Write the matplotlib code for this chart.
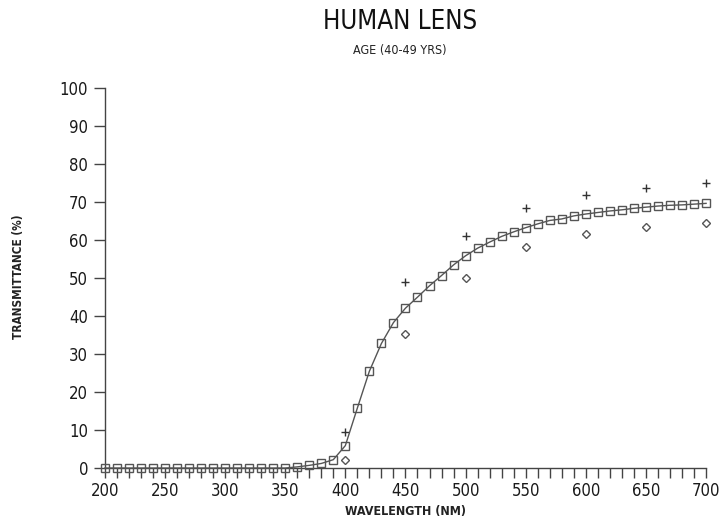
import matplotlib.pyplot as plt
from matplotlib.ticker import MultipleLocator

# Dane
wavelength = list(range(200, 701, 10))
lens_curve = [0] * 16 + [0.3, 0.7, 1.2, 2.2, 5.9, 15.8, 25.5, 32.8, 38.3, 42.1,
                         45.0, 48.0, 50.7, 53.5, 55.9, 57.9, 59.5, 61.0, 62.2, 63.3,
                         64.3, 65.2, 65.6, 66.4, 66.9, 67.3, 67.7, 68.0, 68.4, 68.7,
                         69.0, 69.2, 69.3, 69.5, 69.7]
wl_points = [400, 450, 500, 550, 600, 650, 700]
upper_vals = [9.5, 49.1, 61.2, 68.4, 71.9, 73.7, 75.0]
lower_vals = [2.2, 35.2, 50.1, 58.1, 61.6, 63.6, 64.5]

plt.rcParams['font.family'] = ['DejaVu Sans']
plt.rcParams['font.stretch'] = 'condensed'

fig = plt.figure(figsize=(7.23, 5.22), dpi=100)
ax = fig.add_axes([0.145, 0.1034, 0.8316, 0.7274])

ax.plot(wavelength, lens_curve, color='#555555', lw=1.0, marker='s', markersize=5.5,
        markerfacecolor='none', markeredgecolor='#555555', markeredgewidth=1.0, clip_on=False, zorder=3)
ax.plot(wl_points, upper_vals, linestyle='none', marker='+', markersize=6,
        color='#333333', markeredgewidth=1.0, clip_on=False)
ax.plot(wl_points, lower_vals, linestyle='none', marker='D', markersize=3.8,
        markerfacecolor='none', markeredgecolor='#555555', markeredgewidth=1.0, clip_on=False)

ax.set_xlim(200, 700)
ax.set_ylim(0, 100)
ax.xaxis.set_major_locator(MultipleLocator(50))
ax.xaxis.set_minor_locator(MultipleLocator(10))
ax.yaxis.set_major_locator(MultipleLocator(10))

for side in ['top', 'right']:
    ax.spines[side].set_visible(False)
for side in ['left', 'bottom']:
    ax.spines[side].set_color('#444444')
    ax.spines[side].set_linewidth(1.0)

ax.tick_params(axis='x', which='both', direction='out', length=7, width=1.0,
               color='#444444', labelsize=12, pad=3, labelcolor='#1a1a1a')
ax.tick_params(axis='y', which='major', direction='out', length=8, width=1.0,
               color='#444444', labelsize=12, pad=4, labelcolor='#1a1a1a')

ax.set_xlabel('WAVELENGTH (NM)', fontsize=9, fontweight='bold', color='#222222', labelpad=4)
fig.text(0.025, 0.47, 'TRANSMITTANCE (%)', rotation=90, fontsize=8.5, fontweight='bold',
         color='#222222', ha='center', va='center')

fig.text(0.553, 0.958, 'HUMAN LENS', fontsize=18.5, ha='center', va='center', color='#111111')
fig.text(0.553, 0.904, 'AGE (40-49 YRS)', fontsize=9, ha='center', va='center', color='#222222')

plt.savefig('out.png', dpi=100)
